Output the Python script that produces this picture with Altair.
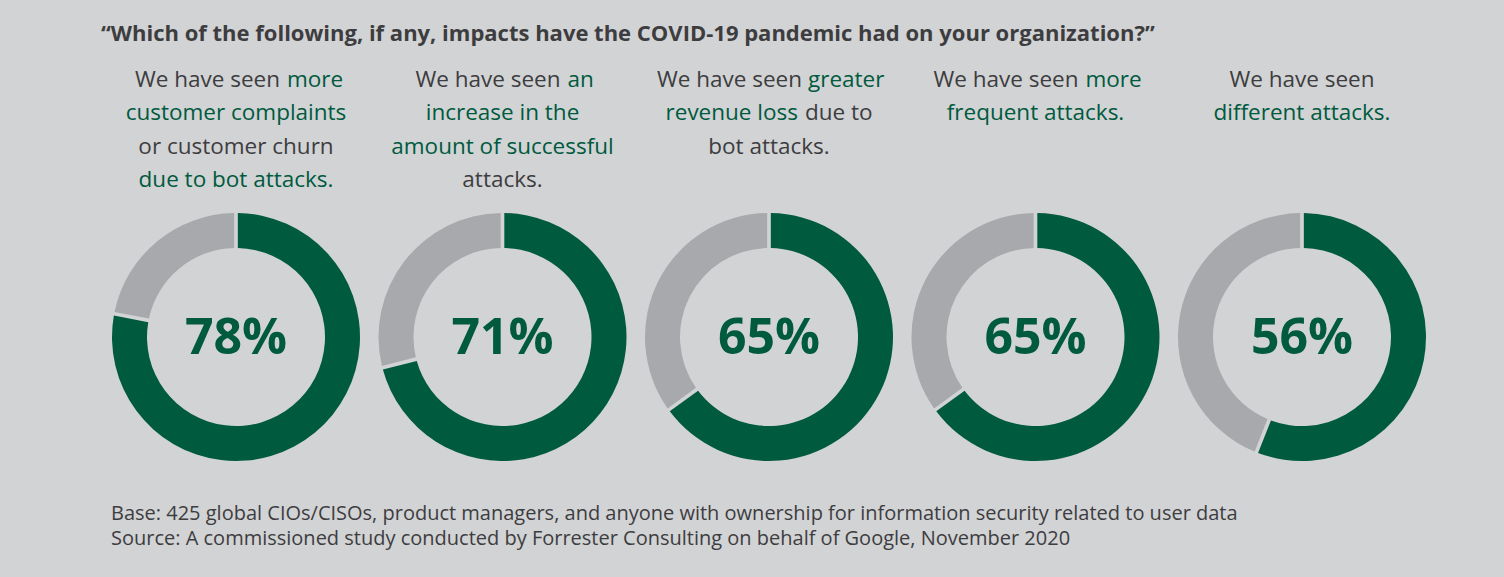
import math
import altair as alt
import pandas as pd

# ---------------- data ----------------
title_text = "\u201cWhich of the following, if any, impacts have the COVID-19 pandemic had on your organization?\u201d"
footnotes = [
    "Base: 425 global CIOs/CISOs, product managers, and anyone with ownership for information security related to user data",
    "Source: A commissioned study conducted by Forrester Consulting on behalf of Google, November 2020",
]
impacts = [
    "More customer complaints or churn",
    "Increase in successful attacks",
    "Greater revenue loss",
    "More frequent attacks",
    "Different attacks",
]
percents = [78, 71, 65, 65, 56]

# headline text segments (column, line, text, colour role)
seg_col = [0, 0, 0, 0, 0,
           1, 1, 1, 1, 1,
           2, 2, 2, 2, 2,
           3, 3, 3,
           4, 4]
seg_line = [0, 0, 1, 2, 3,
            0, 0, 1, 2, 3,
            0, 0, 1, 1, 2,
            0, 0, 1,
            0, 1]
seg_text = ["We have seen", "more", "customer complaints", "or customer churn", "due to bot attacks.",
            "We have seen", "an", "increase in the", "amount of successful", "attacks.",
            "We have seen", "greater", "revenue loss", "due to", "bot attacks.",
            "We have seen", "more", "frequent attacks.",
            "We have seen", "different attacks."]
seg_role = ["plain", "accent", "accent", "plain", "accent",
            "plain", "accent", "accent", "accent", "plain",
            "plain", "accent", "accent", "plain", "plain",
            "plain", "accent", "accent",
            "plain", "accent"]

# layout of the segments (alignment and offset from column centre, px)
seg_align = ["right", "left", "center", "center", "center",
             "right", "left", "center", "center", "center",
             "right", "left", "right", "left", "center",
             "right", "left", "center",
             "center", "center"]
seg_offset = [44, 51, 0, 0, 0,
              58, 65, 0, 0, 0,
              33, 39, 29, 36, 0,
              43, 50, 0,
              0, 0]

# ---------------- styles ----------------
BG = "#d2d3d5"
GREEN = "#005a3e"
GREY_RING = "#a8a9ac"
DARK = "#3d3d3f"
FONT = "Open Sans"

# ---------------- frames ----------------
arc_rows = []
for i, p in enumerate(percents):
    arc_rows.append({"col": i, "part": "yes", "start": 0, "end": p, "impact": impacts[i]})
    arc_rows.append({"col": i, "part": "no", "start": p, "end": 100, "impact": impacts[i]})
arcs_df = pd.DataFrame(arc_rows)

pct_df = pd.DataFrame({"col": list(range(len(percents))), "pct": percents, "impact": impacts})

seg_df = pd.DataFrame({
    "col": seg_col, "line": seg_line, "text": seg_text, "role": seg_role,
    "align": seg_align, "offset": seg_offset,
})

xscale = alt.Scale(type="point", domain=list(range(len(percents))), range=[236, 1302], padding=0)
x_enc = alt.X("col:O", scale=xscale, axis=None)

donuts = alt.Chart(arcs_df).mark_arc(
    innerRadius=89, outerRadius=124, padAngle=0.024
).encode(
    x=x_enc,
    y=alt.value(337),
    theta=alt.Theta("start:Q", stack=None,
                    scale=alt.Scale(domain=[0, 100], range=[0, 2 * math.pi])),
    theta2="end:Q",
    color=alt.Color("part:N", scale=alt.Scale(domain=["yes", "no"], range=[GREEN, GREY_RING]),
                    legend=None),
)

pct_text = alt.Chart(pct_df).transform_calculate(
    label="datum.pct + '%'"
).mark_text(
    font=FONT, fontSize=50, fontWeight="bold", color=GREEN, baseline="middle", align="center", dy=2
).encode(
    x=x_enc,
    y=alt.value(337),
    text="label:N",
)

def head_layer(al):
    return alt.Chart(seg_df).transform_filter(
        alt.datum.align == al
    ).mark_text(
        font=FONT, fontSize=22.5, align=al, baseline="middle"
    ).encode(
        x=x_enc,
        xOffset=alt.XOffset("offset:Q", scale=None),
        y=alt.Y("line:Q", scale=alt.Scale(domain=[0, 3], range=[80, 180]), axis=None),
        text="text:N",
        color=alt.Color("role:N", scale=alt.Scale(domain=["plain", "accent"], range=[DARK, GREEN]),
                        legend=None),
    )

heads = [head_layer(a) for a in ["left", "right", "center"]]

title = alt.Chart(pd.DataFrame({"t": [title_text]})).mark_text(
    font=FONT, fontSize=22, fontWeight="bold", color=DARK, align="left", baseline="middle"
).encode(x=alt.value(101), y=alt.value(34), text="t:N")

foot_df = pd.DataFrame({"t": footnotes, "i": list(range(len(footnotes)))})
foot = alt.Chart(foot_df).mark_text(
    font=FONT, fontSize=20, color=DARK, align="left", baseline="middle"
).encode(
    x=alt.value(111),
    y=alt.Y("i:Q", scale=alt.Scale(domain=[0, 1], range=[514, 539]), axis=None),
    text="t:N",
)

chart = alt.layer(donuts, pct_text, *heads, title, foot).resolve_scale(
    y="independent", color="independent"
).properties(
    width=1504, height=577, background=BG, padding=0,
    autosize=alt.AutoSizeParams(type="none"),
).configure_view(stroke=None)

chart.save("out.html", embed_options={"renderer": "svg", "actions": False})
